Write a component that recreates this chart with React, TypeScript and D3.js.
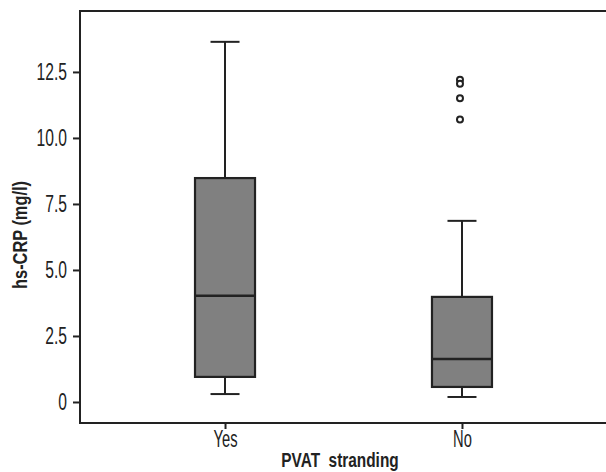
import React, { useEffect, useRef } from "react";
import * as d3 from "d3";

const categories = ["Yes", "No"];
const whiskerLow = [0.3, 0.19];
const q1 = [0.95, 0.57];
const medians = [4.02, 1.63];
const q3 = [8.48, 3.98];
const whiskerHigh = [13.64, 6.86];
const outliersNo = [12.2, 12.05, 11.5, 10.7];
const yTicks = [0, 2.5, 5, 7.5, 10, 12.5];

const W = 606;
const H = 472;
const FONT = "'Liberation Sans', Arial, sans-serif";
const INK = "#222";

export default function App() {
  const ref = useRef<SVGSVGElement>(null);
  useEffect(() => {
    const svg = d3.select(ref.current);
    svg.selectAll("*").remove();
    const left = 80, right = 607, top = 12, bottom = 422;
    const x = d3.scalePoint<string>().domain(categories).range([left, right]).padding(0.612);
    const y = d3.scaleLinear().domain([-0.758, 14.77]).range([bottom, top]);

    // frame lines
    svg.append("path").attr("d", `M${W},11H${left}V${bottom + 1}H${W}`)
      .attr("fill", "none").attr("stroke", INK).attr("stroke-width", 2);

    // y axis
    const ya = svg.append("g").attr("transform", `translate(${left},0)`)
      .call(d3.axisLeft(y).tickValues(yTicks).tickSize(7)
        .tickFormat((d: any) => (d === 0 ? "0" : d3.format(".1f")(d))));
    ya.select(".domain").remove();
    ya.selectAll(".tick line").attr("stroke", INK).attr("stroke-width", 2);
    ya.selectAll(".tick text").attr("x", 0).attr("dy", "0.34em")
      .attr("transform", "translate(-13,0) scale(0.68,1)")
      .attr("font-family", FONT).attr("font-size", 23).attr("fill", INK);

    // x axis
    const xa = svg.append("g").attr("transform", `translate(0,${bottom + 1})`)
      .call(d3.axisBottom(x).tickSize(6));
    xa.select(".domain").remove();
    xa.selectAll(".tick line").attr("stroke", INK).attr("stroke-width", 2);
    xa.selectAll(".tick text").attr("y", 0).attr("dy", 0)
      .attr("transform", "translate(0,24) scale(0.64,1)")
      .attr("font-family", FONT).attr("font-size", 23).attr("fill", INK);

    // boxes
    const bw = 60, cap = 29;
    const g = svg.append("g");
    categories.forEach((c, i) => {
      const cx = x(c)!;
      g.append("line").attr("x1", cx).attr("x2", cx).attr("y1", y(whiskerHigh[i])).attr("y2", y(q3[i]))
        .attr("stroke", INK).attr("stroke-width", 2);
      g.append("line").attr("x1", cx).attr("x2", cx).attr("y1", y(q1[i])).attr("y2", y(whiskerLow[i]))
        .attr("stroke", INK).attr("stroke-width", 2);
      g.append("line").attr("x1", cx - cap / 2).attr("x2", cx + cap / 2)
        .attr("y1", y(whiskerHigh[i])).attr("y2", y(whiskerHigh[i])).attr("stroke", INK).attr("stroke-width", 2);
      g.append("line").attr("x1", cx - cap / 2).attr("x2", cx + cap / 2)
        .attr("y1", y(whiskerLow[i])).attr("y2", y(whiskerLow[i])).attr("stroke", INK).attr("stroke-width", 2);
      g.append("rect").attr("x", cx - bw / 2).attr("width", bw)
        .attr("y", y(q3[i])).attr("height", y(q1[i]) - y(q3[i]))
        .attr("fill", "#808080").attr("stroke", INK).attr("stroke-width", 2.2);
      g.append("line").attr("x1", cx - bw / 2).attr("x2", cx + bw / 2)
        .attr("y1", y(medians[i])).attr("y2", y(medians[i])).attr("stroke", INK).attr("stroke-width", 2.5);
    });
    g.selectAll("circle.out").data(outliersNo).enter().append("circle")
      .attr("cx", x("No")! - 2).attr("cy", (d) => y(d)).attr("r", 3)
      .attr("fill", "#fff").attr("stroke", INK).attr("stroke-width", 2);

    // axis titles
    svg.append("text").attr("transform", "translate(27,235) rotate(-90) scale(0.78,1)")
      .attr("text-anchor", "middle").attr("font-family", FONT).attr("font-weight", "bold")
      .attr("font-size", 21).attr("fill", INK).text("hs-CRP (mg/l)");
    svg.append("text").attr("transform", "translate(340,467) scale(0.77,1)")
      .attr("text-anchor", "middle").attr("font-family", FONT).attr("font-weight", "bold")
      .attr("font-size", 20).attr("fill", INK).text("PVAT\u00a0\u00a0stranding");
  }, []);
  return (
    <svg ref={ref} width={W} height={H}
      style={{ position: "absolute", left: 0, top: 0, display: "block", background: "#fff" }} />
  );
}
